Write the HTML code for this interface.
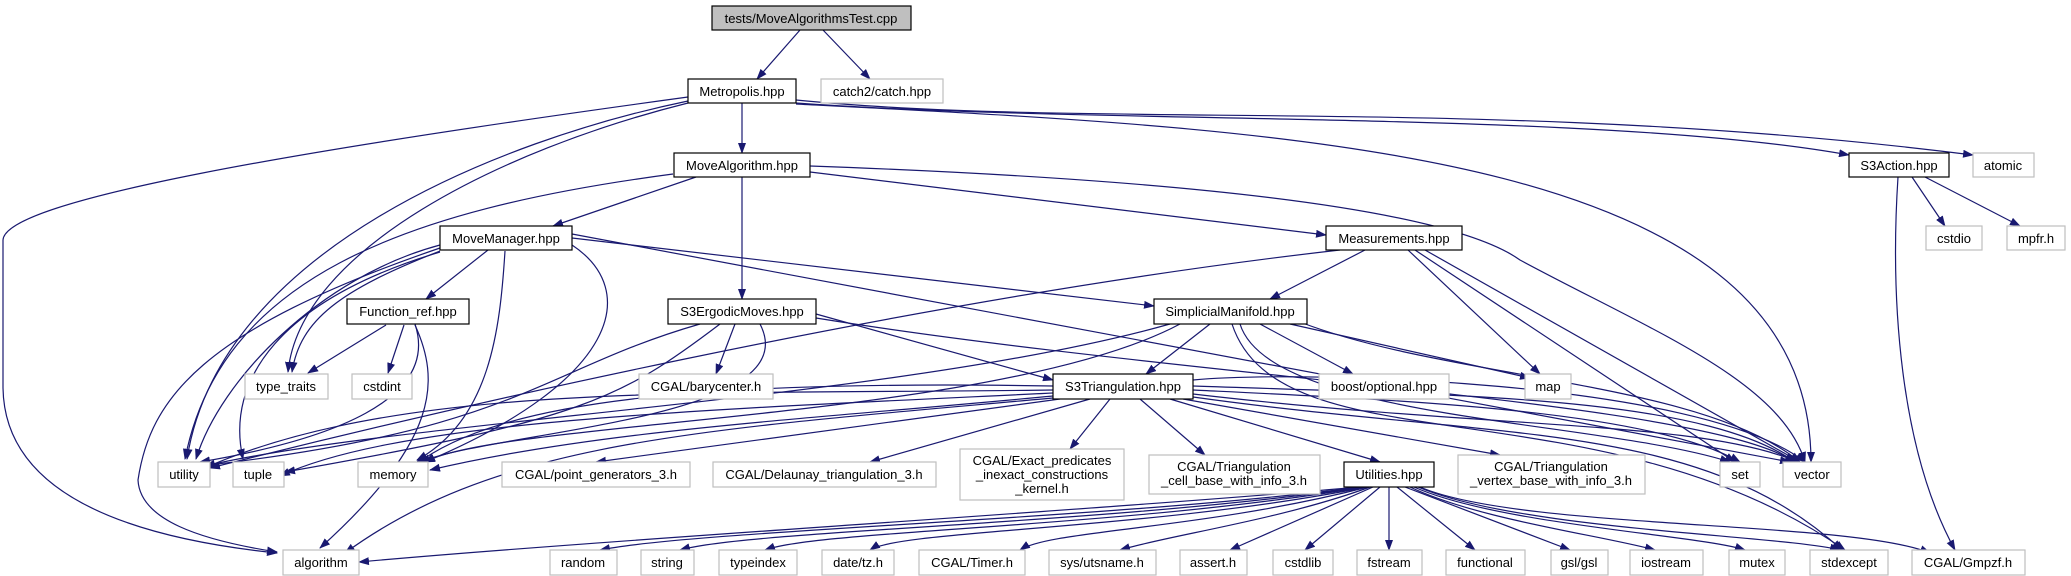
<!DOCTYPE html>
<html><head><meta charset="utf-8"><style>
html,body{margin:0;padding:0;background:#fff;width:2071px;height:576px;overflow:hidden}
svg text{font-family:"Liberation Sans",Arial,sans-serif;font-size:13px;fill:#000}
</style></head><body>
<svg width="2071" height="576" viewBox="0 0 2071 576" xmlns="http://www.w3.org/2000/svg">
<defs><marker id="a" markerWidth="11" markerHeight="8" refX="10" refY="4" orient="auto" markerUnits="userSpaceOnUse"><path d="M0,0 L11,4 L0,8 z" fill="#191970"/></marker></defs>
<g fill="none" stroke="#191970" stroke-width="1.2" marker-end="url(#a)">
<path d="M800,30 L757,79"/>
<path d="M823,30 L870,79"/>
<path d="M742,103 L742,153"/>
<path d="M796,103 C1100,125 1600,110 1849,155"/>
<path d="M796,100 C1100,130 1500,95 1973,155"/>
<path d="M796,104 C1300,130 1811,150 1811,462"/>
<path d="M688,101 C500,140 220,250 187,459"/>
<path d="M688,103 C500,150 300,250 288,372"/>
<path d="M688,97 C300,150 5,200 3,240 L3,388 C5,520 200,545 277,553"/>
<path d="M696,177 L553,226"/>
<path d="M810,172 L1326,235"/>
<path d="M742,177 L742,299"/>
<path d="M810,166 C1200,180 1450,210 1520,260 C1650,330 1780,380 1805,462"/>
<path d="M673,174 C400,210 220,280 185,459"/>
<path d="M488,250 L426,299"/>
<path d="M440,251 C340,290 300,320 292,372"/>
<path d="M440,252 C280,300 225,380 243,459"/>
<path d="M440,245 C320,277 220,380 196,459"/>
<path d="M440,248 C200,330 150,400 138,480 C140,520 200,540 277,552"/>
<path d="M572,245 C640,290 620,380 425,462"/>
<path d="M505,251 C500,330 490,420 417,460"/>
<path d="M572,238 L1154,306"/>
<path d="M572,234 L1790,462"/>
<path d="M386,325 L308,373"/>
<path d="M404,325 L388,373"/>
<path d="M415,324 C440,400 330,440 200,462"/>
<path d="M415,325 C440,380 440,440 320,548"/>
<path d="M816,314 L1053,380"/>
<path d="M735,324 L716,374"/>
<path d="M700,324 C540,370 520,430 200,466"/>
<path d="M720,324 C620,400 580,420 285,472"/>
<path d="M760,324 C810,420 500,430 420,462"/>
<path d="M816,318 C1200,380 1700,400 1795,462"/>
<path d="M1210,324 L1146,374"/>
<path d="M1260,324 L1353,374"/>
<path d="M1290,324 L1530,378"/>
<path d="M1300,322 C1450,380 1700,380 1800,462"/>
<path d="M1240,324 C1270,420 1600,420 1730,462"/>
<path d="M1170,324 C900,400 400,420 205,466"/>
<path d="M1180,324 C1000,420 500,420 425,462"/>
<path d="M1232,324 C1280,470 1600,380 1845,550"/>
<path d="M1365,250 L1270,299"/>
<path d="M1408,250 L1540,374"/>
<path d="M1415,250 L1735,462"/>
<path d="M1425,250 L1800,462"/>
<path d="M1340,250 C900,300 400,420 210,468"/>
<path d="M1912,177 L1945,226"/>
<path d="M1925,177 L2020,226"/>
<path d="M1898,177 C1890,300 1900,450 1955,550"/>
<path d="M1053,390 C700,395 400,380 200,470"/>
<path d="M1053,393 C700,410 400,420 280,476"/>
<path d="M1053,386 C700,380 500,400 415,465"/>
<path d="M1053,396 C800,420 600,430 430,470"/>
<path d="M1053,398 C700,430 500,440 345,553"/>
<path d="M1060,399 L596,462"/>
<path d="M1090,399 L870,462"/>
<path d="M1110,399 L1070,449"/>
<path d="M1140,399 L1205,455"/>
<path d="M1170,399 L1380,462"/>
<path d="M1183,399 L1500,455"/>
<path d="M1193,390 C1400,400 1650,410 1740,462"/>
<path d="M1193,386 C1450,395 1700,395 1795,462"/>
<path d="M1193,394 C1500,430 1700,420 1798,462"/>
<path d="M1193,380 C1300,370 1700,380 1805,462"/>
<path d="M1193,397 C1500,440 1700,420 1842,550"/>
<path d="M1360,487 C1100,510 600,540 359,562"/>
<path d="M1362,487 C1100,520 700,530 600,550"/>
<path d="M1364,487 C1100,525 750,530 680,550"/>
<path d="M1365,487 C1120,528 820,530 765,550"/>
<path d="M1367,487 C1150,530 900,530 870,550"/>
<path d="M1368,487 C1200,530 1050,530 1020,550"/>
<path d="M1370,487 C1280,520 1170,535 1120,550"/>
<path d="M1373,487 L1230,550"/>
<path d="M1380,487 L1305,550"/>
<path d="M1389,487 L1389,550"/>
<path d="M1397,487 L1475,550"/>
<path d="M1405,487 L1570,550"/>
<path d="M1410,487 C1480,520 1600,535 1655,550"/>
<path d="M1414,487 C1500,525 1700,535 1745,550"/>
<path d="M1418,487 C1520,530 1780,535 1840,550"/>
<path d="M1420,487 C1520,530 1850,520 1930,553"/>
</g>
<g stroke-width="1.2">
<rect x="712" y="6" width="199" height="24" fill="#bfbfbf" stroke="#000"/>
<rect x="688" y="79" width="108" height="24" fill="#fff" stroke="#000"/>
<rect x="821" y="79" width="122" height="24" fill="#fff" stroke="#bfbfbf"/>
<rect x="674" y="153" width="136" height="24" fill="#fff" stroke="#000"/>
<rect x="1849" y="153" width="100" height="24" fill="#fff" stroke="#000"/>
<rect x="1973" y="153" width="61" height="24" fill="#fff" stroke="#bfbfbf"/>
<rect x="440" y="226" width="132" height="24" fill="#fff" stroke="#000"/>
<rect x="1326" y="226" width="136" height="24" fill="#fff" stroke="#000"/>
<rect x="1926" y="226" width="56" height="24" fill="#fff" stroke="#bfbfbf"/>
<rect x="2007" y="226" width="58" height="24" fill="#fff" stroke="#bfbfbf"/>
<rect x="347" y="299" width="122" height="25" fill="#fff" stroke="#000"/>
<rect x="668" y="299" width="148" height="25" fill="#fff" stroke="#000"/>
<rect x="1154" y="299" width="153" height="25" fill="#fff" stroke="#000"/>
<rect x="245" y="374" width="83" height="25" fill="#fff" stroke="#bfbfbf"/>
<rect x="352" y="374" width="60" height="25" fill="#fff" stroke="#bfbfbf"/>
<rect x="639" y="374" width="134" height="25" fill="#fff" stroke="#bfbfbf"/>
<rect x="1053" y="374" width="140" height="25" fill="#fff" stroke="#000"/>
<rect x="1319" y="374" width="130" height="25" fill="#fff" stroke="#bfbfbf"/>
<rect x="1525" y="374" width="46" height="25" fill="#fff" stroke="#bfbfbf"/>
<rect x="158" y="462" width="52" height="25" fill="#fff" stroke="#bfbfbf"/>
<rect x="233" y="462" width="51" height="25" fill="#fff" stroke="#bfbfbf"/>
<rect x="358" y="462" width="70" height="25" fill="#fff" stroke="#bfbfbf"/>
<rect x="502" y="462" width="188" height="25" fill="#fff" stroke="#bfbfbf"/>
<rect x="713" y="462" width="223" height="25" fill="#fff" stroke="#bfbfbf"/>
<rect x="960" y="449" width="164" height="51" fill="#fff" stroke="#bfbfbf"/>
<rect x="1149" y="455" width="171" height="39" fill="#fff" stroke="#bfbfbf"/>
<rect x="1344" y="462" width="90" height="25" fill="#fff" stroke="#000"/>
<rect x="1458" y="455" width="187" height="39" fill="#fff" stroke="#bfbfbf"/>
<rect x="1720" y="462" width="40" height="25" fill="#fff" stroke="#bfbfbf"/>
<rect x="1783" y="462" width="58" height="25" fill="#fff" stroke="#bfbfbf"/>
<g fill="#fff" stroke="#bfbfbf">
<rect x="283" y="550" width="76" height="25"/>
<rect x="550" y="550" width="67" height="25"/>
<rect x="641" y="550" width="53" height="25"/>
<rect x="719" y="550" width="78" height="25"/>
<rect x="822" y="550" width="72" height="25"/>
<rect x="919" y="550" width="106" height="25"/>
<rect x="1049" y="550" width="107" height="25"/>
<rect x="1180" y="550" width="67" height="25"/>
<rect x="1273" y="550" width="60" height="25"/>
<rect x="1357" y="550" width="65" height="25"/>
<rect x="1446" y="550" width="79" height="25"/>
<rect x="1551" y="550" width="57" height="25"/>
<rect x="1630" y="550" width="73" height="25"/>
<rect x="1729" y="550" width="56" height="25"/>
<rect x="1810" y="550" width="78" height="25"/>
<rect x="1912" y="550" width="113" height="25"/>
</g></g>
<g text-anchor="middle">
<text x="811" y="23">tests/MoveAlgorithmsTest.cpp</text>
<text x="742" y="96">Metropolis.hpp</text>
<text x="882" y="96">catch2/catch.hpp</text>
<text x="742" y="170">MoveAlgorithm.hpp</text>
<text x="1899" y="170">S3Action.hpp</text>
<text x="2003" y="170">atomic</text>
<text x="506" y="243">MoveManager.hpp</text>
<text x="1394" y="243">Measurements.hpp</text>
<text x="1954" y="243">cstdio</text>
<text x="2036" y="243">mpfr.h</text>
<text x="408" y="316">Function_ref.hpp</text>
<text x="742" y="316">S3ErgodicMoves.hpp</text>
<text x="1230" y="316">SimplicialManifold.hpp</text>
<text x="286" y="391">type_traits</text>
<text x="382" y="391">cstdint</text>
<text x="706" y="391">CGAL/barycenter.h</text>
<text x="1123" y="391">S3Triangulation.hpp</text>
<text x="1384" y="391">boost/optional.hpp</text>
<text x="1548" y="391">map</text>
<text x="184" y="479">utility</text>
<text x="258" y="479">tuple</text>
<text x="393" y="479">memory</text>
<text x="596" y="479">CGAL/point_generators_3.h</text>
<text x="824" y="479">CGAL/Delaunay_triangulation_3.h</text>
<text x="1042" y="465">CGAL/Exact_predicates</text>
<text x="1042" y="479">_inexact_constructions</text>
<text x="1042" y="493">_kernel.h</text>
<text x="1234" y="471">CGAL/Triangulation</text>
<text x="1234" y="485">_cell_base_with_info_3.h</text>
<text x="1389" y="479">Utilities.hpp</text>
<text x="1551" y="471">CGAL/Triangulation</text>
<text x="1551" y="485">_vertex_base_with_info_3.h</text>
<text x="1740" y="479">set</text>
<text x="1812" y="479">vector</text>
<text x="321" y="567">algorithm</text>
<text x="583" y="567">random</text>
<text x="667" y="567">string</text>
<text x="758" y="567">typeindex</text>
<text x="858" y="567">date/tz.h</text>
<text x="972" y="567">CGAL/Timer.h</text>
<text x="1102" y="567">sys/utsname.h</text>
<text x="1213" y="567">assert.h</text>
<text x="1303" y="567">cstdlib</text>
<text x="1389" y="567">fstream</text>
<text x="1485" y="567">functional</text>
<text x="1579" y="567">gsl/gsl</text>
<text x="1666" y="567">iostream</text>
<text x="1757" y="567">mutex</text>
<text x="1849" y="567">stdexcept</text>
<text x="1968" y="567">CGAL/Gmpzf.h</text>
</g>
</svg>
</body></html>
